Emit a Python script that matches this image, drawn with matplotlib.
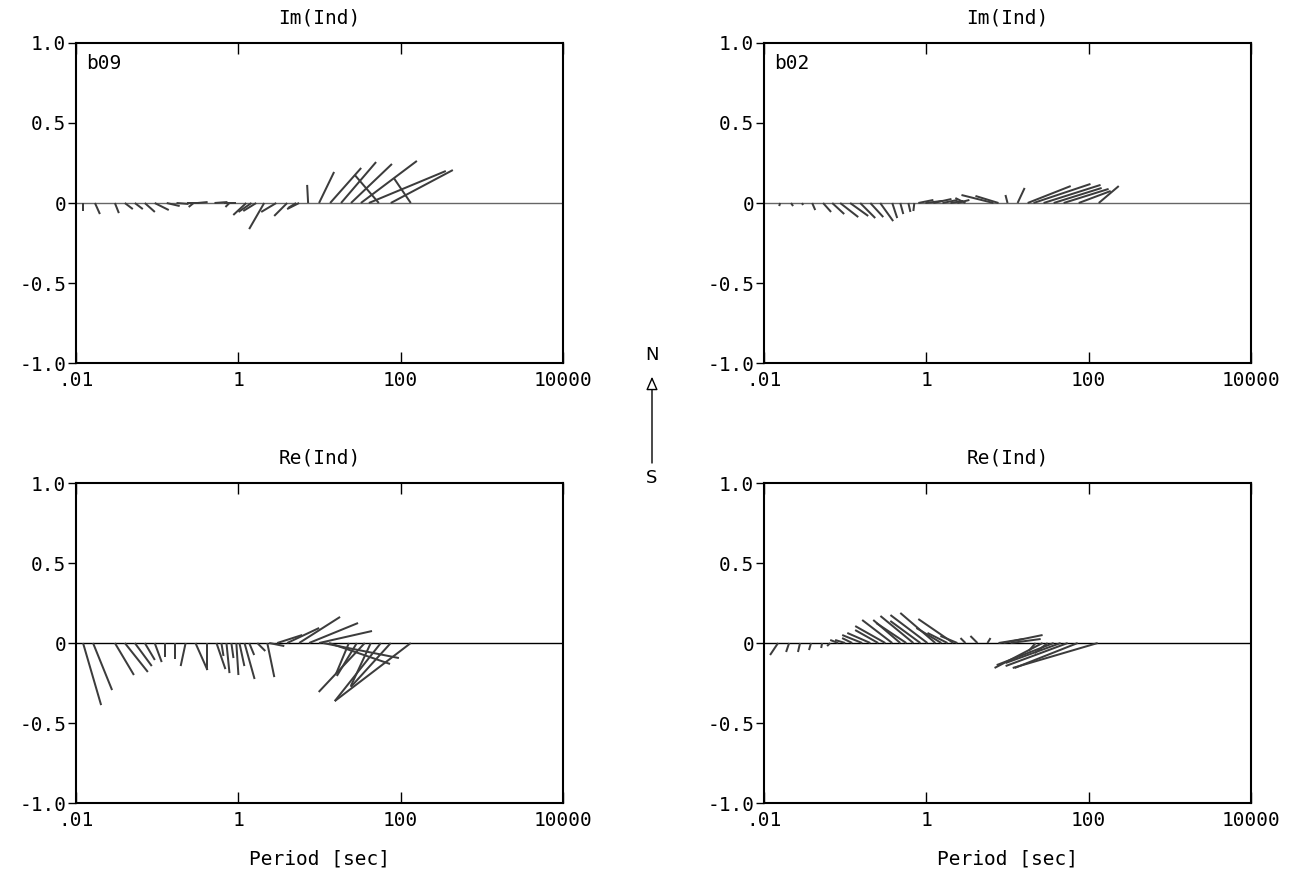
import numpy as np
import matplotlib.pyplot as plt

plt.rcParams['font.family'] = ['DejaVu Sans Mono']

# station b09, imaginary induction arrows (period [s], east, north)
periods_im_b09 = [0.0122, 0.0171, 0.0301, 0.0399, 0.0530, 0.0703, 0.0931, 0.131, 0.173, 0.230,
                  0.281, 0.314, 0.508, 0.673, 0.776, 1.25, 1.45, 1.66, 2.08, 2.93,
                  3.99, 5.15, 5.60, 7.23, 9.86, 13.5, 18.4, 24.4, 32.3, 40.5,
                  53.7, 75.4, 133]
u_im_b09 = [0.0, 0.031, 0.025, 0.05, 0.05, 0.063, 0.088, 0.081, 0.075, 0.075,
            -0.031, 0.063, 0.081, 0.075, -0.025, -0.081, -0.081, -0.081, -0.094, -0.094,
            -0.081, -0.05, -0.075, -0.006, 0.094, 0.194, 0.219, 0.256, 0.35, 0.481,
            -0.15, 0.388, -0.106]
v_im_b09 = [-0.05, -0.069, -0.063, -0.038, -0.038, -0.056, -0.044, -0.019, -0.006, 0.0,
            -0.025, 0.006, 0.006, 0.0, -0.025, -0.075, -0.056, -0.05, -0.163, -0.056,
            -0.081, -0.031, -0.038, 0.113, 0.194, 0.219, 0.256, 0.244, 0.263, 0.2,
            0.175, 0.206, 0.156]

# station b09, real induction arrows
periods_re_b09 = [0.0122, 0.0162, 0.0301, 0.0399, 0.0530, 0.0703, 0.0931, 0.124, 0.164, 0.224,
                  0.296, 0.405, 0.537, 0.618, 0.713, 0.820, 0.944, 1.03, 1.19, 1.36,
                  1.71, 2.27, 2.40, 3.01, 3.99, 5.60, 7.43, 9.86, 11.0, 13.1,
                  23.0, 28.8, 36.1, 42.8, 56.9, 75.4, 133]
u_re_b09 = [0.113, 0.119, 0.119, 0.144, 0.106, 0.063, 0.044, 0.0, 0.0, -0.031,
            0.075, 0.0, 0.056, 0.013, 0.019, 0.013, 0.013, 0.031, 0.063, 0.031,
            0.05, 0.044, 0.094, 0.156, 0.2, 0.256, 0.306, 0.331, 0.475, 0.381,
            -0.081, -0.125, -0.288, -0.125, -0.288, -0.25, -0.475]
v_re_b09 = [-0.388, -0.294, -0.2, -0.181, -0.144, -0.106, -0.119, -0.088, -0.1, -0.144,
            -0.169, -0.169, -0.163, -0.081, -0.188, -0.094, -0.2, -0.144, -0.225, -0.075,
            -0.05, -0.213, -0.019, 0.05, 0.094, 0.163, 0.125, 0.075, -0.094, -0.131,
            -0.194, -0.206, -0.306, -0.269, -0.363, -0.275, -0.363]

# station b02, imaginary induction arrows
periods_im_b02 = [0.0158, 0.0215, 0.0294, 0.0392, 0.0534, 0.0692, 0.0867, 0.115, 0.153, 0.204,
                  0.270, 0.380, 0.477, 0.600, 0.711, 0.796, 0.973, 1.22, 1.58, 1.98,
                  2.41, 3.03, 6.71, 7.74, 10.0, 13.3, 17.7, 20.9, 27.8, 37.0,
                  49.1, 75.3, 133]
u_im_b02 = [-0.006, 0.013, 0.006, 0.019, 0.05, 0.075, 0.113, 0.113, 0.094, 0.081,
            0.081, 0.031, 0.019, 0.013, -0.006, 0.094, 0.106, 0.113, 0.094, 0.081,
            0.075, -0.063, -0.2, -0.144, -0.013, 0.044, 0.269, 0.356, 0.356, 0.3,
            0.281, 0.2, 0.125]
v_im_b02 = [-0.019, -0.019, -0.013, -0.044, -0.056, -0.069, -0.088, -0.081, -0.094, -0.088,
            -0.113, -0.094, -0.069, -0.056, -0.05, 0.019, 0.013, 0.025, 0.019, 0.013,
            0.019, 0.031, 0.05, 0.044, 0.05, 0.094, 0.106, 0.119, 0.113, 0.094,
            0.088, 0.075, 0.106]

# station b02, real induction arrows
periods_re_b02 = [0.0149, 0.0204, 0.0278, 0.0380, 0.0520, 0.0653, 0.0820, 0.1, 0.122, 0.162,
                  0.204, 0.255, 0.312, 0.380, 0.477, 0.566, 0.692, 0.844, 1.03, 1.29,
                  1.53, 1.82, 2.15, 2.41, 3.03, 4.26, 5.66, 7.74, 8.93, 10.9,
                  22.2, 27.0, 31.2, 37.0, 45.1, 55.1, 73.1, 129]
u_re_b02 = [-0.05, -0.019, -0.013, -0.013, -0.006, -0.019, -0.05, -0.063, -0.063, -0.125,
            -0.144, -0.144, -0.188, -0.188, -0.169, -0.188, -0.206, -0.188, -0.231, -0.219,
            -0.156, -0.125, -0.219, -0.106, -0.031, -0.044, 0.019, 0.156, 0.244, 0.188,
            -0.044, -0.3, -0.081, -0.356, -0.344, -0.388, -0.394, -0.531]
v_re_b02 = [-0.075, -0.056, -0.056, -0.044, -0.031, -0.019, 0.019, 0.019, 0.031, 0.05,
            0.063, 0.081, 0.106, 0.144, 0.144, 0.125, 0.169, 0.138, 0.175, 0.188,
            0.094, 0.063, 0.15, 0.044, 0.031, 0.044, 0.031, 0.025, 0.05, 0.025,
            -0.05, -0.156, -0.063, -0.138, -0.125, -0.144, -0.156, -0.156]

xticks = [0.01, 1, 100, 10000]
xticklabels = ['.01', '1', '100', '10000']
yticks = [-1.0, -0.5, 0.0, 0.5, 1.0]
yticklabels = ['-1.0', '-0.5', '0', '0.5', '1.0']

FS = 14


def draw_panel(ax, periods, u, v, title, station=None, xlabel=False, zero_color='#666666'):
    ax.set_xscale('log')
    ax.set_xlim(0.01, 10000)
    ax.set_ylim(-1, 1)
    ax.axhline(0, color=zero_color, lw=1.0, zorder=1)
    # arrows drawn at true aspect: length in y-units, direction from (east, north)
    ax.quiver(periods, np.zeros(len(periods)), u, v, angles='uv', scale_units='y',
              scale=1, pivot='tail', headwidth=0, headlength=0, headaxislength=0,
              units='dots', width=2.0, color='#3c3c3c', zorder=2)
    ax.set_xticks(xticks)
    ax.set_xticklabels(xticklabels, fontsize=FS)
    ax.minorticks_off()
    ax.set_yticks(yticks)
    ax.set_yticklabels(yticklabels, fontsize=FS)
    ax.tick_params(axis='x', direction='in', length=8, width=1, top=True, pad=6)
    ax.tick_params(axis='y', direction='out', length=6, width=1, pad=1)
    for s in ax.spines.values():
        s.set_linewidth(1.5)
    ax.set_title(title, fontsize=FS, pad=14)
    if station:
        ax.text(0.02, 0.965, station, transform=ax.transAxes, fontsize=FS,
                ha='left', va='top')
    if xlabel:
        ax.set_xlabel('Period [sec]', fontsize=FS, labelpad=14)


fig = plt.figure(figsize=(13.04, 8.72), dpi=100)
w, h = 0.3735, 0.367
ax_tl = fig.add_axes([0.0583, 0.5837, w, h])
ax_tr = fig.add_axes([0.5859, 0.5837, w, h])
ax_bl = fig.add_axes([0.0583, 0.0791, w, h])
ax_br = fig.add_axes([0.5859, 0.0791, w, h])

draw_panel(ax_tl, periods_im_b09, u_im_b09, v_im_b09, 'Im(Ind)', station='b09')
draw_panel(ax_tr, periods_im_b02, u_im_b02, v_im_b02, 'Im(Ind)', station='b02')
draw_panel(ax_bl, periods_re_b09, u_re_b09, v_re_b09, 'Re(Ind)', xlabel=True, zero_color='black')
draw_panel(ax_br, periods_re_b02, u_re_b02, v_re_b02, 'Re(Ind)', xlabel=True, zero_color='black')

# north arrow between the panels
fig.text(0.5, 0.593, 'N', ha='center', va='center', fontsize=13, family='DejaVu Sans')
fig.text(0.5, 0.452, 'S', ha='center', va='center', fontsize=13, family='DejaVu Sans')
ax_tl.annotate('', xy=(0.5, 0.568), xytext=(0.5, 0.469), xycoords='figure fraction',
               textcoords='figure fraction',
               arrowprops=dict(arrowstyle='-|>,head_length=0.8,head_width=0.35',
                               fc='white', ec='black', lw=1.0, shrinkA=0, shrinkB=0))

fig.savefig('out.png', dpi=100)
